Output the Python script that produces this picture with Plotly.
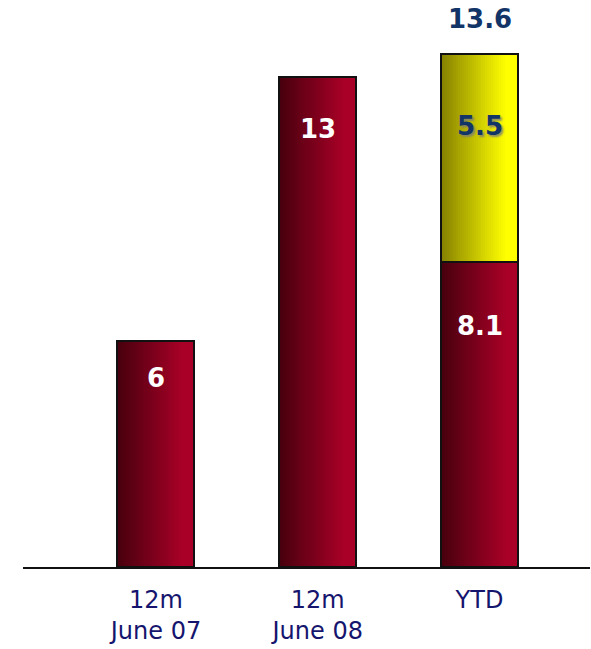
import plotly.graph_objects as go

# Data
categories = ["12m<br>June 07", "12m<br>June 08", "YTD"]
base_values = [6, 13, 8.1]          # dark red segments
extra_values = [None, None, 5.5]    # yellow segment on top of YTD
extra_base = [None, None, 8.1]
total_labels = [None, None, 13.6]

x_pos = [0, 1, 2]
BAR_W = 0.476
N_SLICES = 40


def lerp(c0, c1, t):
    return "rgb(%d,%d,%d)" % tuple(round(a + (b - a) * t) for a, b in zip(c0, c1))


def ramp(t):
    # gradient reaches the full colour at ~85% of the bar width
    return min(1.0, t / 0.85)


RED_L, RED_R = (72, 0, 14), (168, 0, 38)
YEL_L, YEL_R = (135, 130, 0), (255, 255, 0)

fig = go.Figure()

# Horizontal gradient: each slice runs from its left edge to the bar's right edge,
# drawn left to right so later slices cover the earlier ones without seams.
for i in range(N_SLICES):
    t = i / (N_SLICES - 1)
    off = -BAR_W / 2 + i * BAR_W / N_SLICES
    w = BAR_W - i * BAR_W / N_SLICES
    fig.add_trace(go.Bar(
        x=x_pos, y=base_values, offset=off, width=w,
        marker=dict(color=lerp(RED_L, RED_R, ramp(t)), line=dict(width=0)),
        hoverinfo="skip", showlegend=False,
    ))
    fig.add_trace(go.Bar(
        x=x_pos, y=extra_values, base=extra_base, offset=off, width=w,
        marker=dict(color=lerp(YEL_L, YEL_R, ramp(t)), line=dict(width=0)),
        hoverinfo="skip", showlegend=False,
    ))

# Black outlines
fig.add_trace(go.Bar(
    x=x_pos, y=base_values, width=BAR_W,
    marker=dict(color="rgba(0,0,0,0)", line=dict(color="#111111", width=2)),
    hoverinfo="skip", showlegend=False,
))
fig.add_trace(go.Bar(
    x=x_pos, y=extra_values, base=extra_base, width=BAR_W,
    marker=dict(color="rgba(0,0,0,0)", line=dict(color="#111111", width=2)),
    hoverinfo="skip", showlegend=False,
))

VAL_FONT = "DejaVu Sans"
NAVY = "#123466"

annotations = []
base_shift = [-37, -52, -64]
for xp, v, s in zip(x_pos, base_values, base_shift):
    annotations.append(dict(
        x=xp, y=v, text="<b>%g</b>" % v, showarrow=False, yshift=s,
        font=dict(family=VAL_FONT, size=26, color="white"),
    ))
for xp, v, b in zip(x_pos, extra_values, extra_base):
    if v is None:
        continue
    annotations.append(dict(
        x=xp, y=b + v, text="<b>%g</b>" % v, showarrow=False, yshift=-72,
        font=dict(family=VAL_FONT, size=26, color=NAVY,
                  shadow="2px 2px 2px rgba(120,120,120,0.8)"),
    ))
for xp, v in zip(x_pos, total_labels):
    if v is None:
        continue
    annotations.append(dict(
        x=xp, y=v, text="<b>%g</b>" % v, showarrow=False, yshift=35,
        font=dict(family=VAL_FONT, size=26, color=NAVY),
    ))

fig.update_layout(
    width=591, height=649,
    margin=dict(l=23, r=1, t=0, b=82),
    paper_bgcolor="white", plot_bgcolor="white",
    barmode="overlay", bargap=0,
    showlegend=False,
    annotations=annotations,
    xaxis=dict(
        range=[-0.822, 2.683], tickvals=x_pos, ticktext=categories,
        showline=True, linecolor="#111111", linewidth=2,
        showgrid=False, zeroline=False, ticks="",
        ticklabelstandoff=10,
        tickfont=dict(family="DejaVu Sans", size=24, color="#15156e"),
        fixedrange=True,
    ),
    yaxis=dict(
        range=[0, 15.04], visible=False, showgrid=False, zeroline=False,
        fixedrange=True,
    ),
)

fig.write_html("out.html")
